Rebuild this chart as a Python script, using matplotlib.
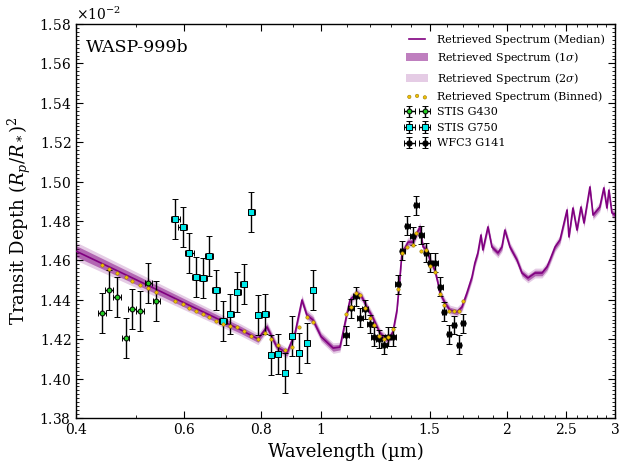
import numpy as np
import matplotlib
matplotlib.use('Agg')
import matplotlib.pyplot as plt
from matplotlib.ticker import FixedLocator, FixedFormatter, NullFormatter, MultipleLocator, ScalarFormatter

# ------------------------------------------------------------------
# data (depths in percent, i.e. units of 1e-2)
# ------------------------------------------------------------------
model_wl = [0.400, 0.450, 0.500, 0.550, 0.600, 0.650, 0.700, 0.740, 0.790, 0.817,
            0.847, 0.880, 0.907, 0.931, 0.948, 0.970, 1.000, 1.046,
            1.073, 1.102, 1.114, 1.144, 1.165, 1.187, 1.214, 1.246, 1.270, 1.284,
            1.308, 1.328, 1.343, 1.353, 1.368, 1.384, 1.410, 1.431, 1.447, 1.464,
            1.486, 1.502, 1.530, 1.548, 1.559, 1.589, 1.619, 1.662, 1.693, 1.725,
            1.758, 1.777, 1.797, 1.818, 1.831, 1.866, 1.894, 1.937, 1.966, 1.988,
            2.026, 2.080, 2.119, 2.167, 2.225, 2.284, 2.327, 2.353, 2.398, 2.443,
            2.508, 2.526, 2.564, 2.603, 2.642, 2.672, 2.732, 2.764, 2.835, 2.878,
            2.911, 2.933, 2.966, 3.000]
model_depth = [1.4647, 1.4571, 1.4503, 1.4441, 1.4384, 1.4332, 1.4284, 1.4248, 1.4201, 1.4262,
               1.4162, 1.4130, 1.4230, 1.4399, 1.4323, 1.4298, 1.4213, 1.4155,
               1.4160, 1.4333, 1.4399, 1.4435, 1.4414, 1.4363, 1.4308, 1.4232, 1.4206, 1.4196,
               1.4237, 1.4348, 1.4516, 1.4638, 1.4663, 1.4693, 1.4693, 1.4739, 1.4770, 1.4668,
               1.4653, 1.4602, 1.4551, 1.4485, 1.4435, 1.4384, 1.4348, 1.4338, 1.4363, 1.4435,
               1.4516, 1.4587, 1.4638, 1.4729, 1.4653, 1.4770, 1.4668, 1.4638, 1.4668, 1.4754,
               1.4668, 1.4602, 1.4536, 1.4511, 1.4536, 1.4536, 1.4567, 1.4602, 1.4668, 1.4704,
               1.4856, 1.4719, 1.4866, 1.4754, 1.4871, 1.4790, 1.4973, 1.4830, 1.4871, 1.4968,
               1.4866, 1.4957, 1.4841, 1.4830]
# half widths of the 1 and 2 sigma bands
band1 = [0.0028, 0.0026, 0.0024, 0.0022, 0.0021, 0.0020, 0.0019, 0.0018, 0.0017] \
        + [0.0016] * 9 + [0.0014] * (len(model_wl) - 18)
band2 = [0.0046, 0.0043, 0.0040, 0.0037, 0.0035, 0.0033, 0.0031, 0.0030, 0.0029] \
        + [0.0027] * 9 + [0.0025] * (len(model_wl) - 18)

g430_wl = [0.4403, 0.4530, 0.4667, 0.4816, 0.4931, 0.5081, 0.5241, 0.5400]
g430_depth = [1.4332, 1.4450, 1.4413, 1.4205, 1.4353, 1.4343, 1.4484, 1.4394]
g430_bin = [1.4578, 1.4555, 1.4535, 1.4514, 1.4495, 1.4474, 1.4458, 1.4438]
g430_err = 0.0101
g430_xerr = 0.0068

g750_wl = [0.5798, 0.5961, 0.6110, 0.6272, 0.6439, 0.6584, 0.6751, 0.6938, 0.7121, 0.7309,
           0.7495, 0.7702, 0.7906, 0.8121, 0.8291, 0.8520, 0.8737, 0.8978, 0.9217, 0.9475,
           0.9712]
g750_depth = [1.4809, 1.4768, 1.4636, 1.4514, 1.4509, 1.4621, 1.4450, 1.4294, 1.4326, 1.4438,
              1.4479, 1.4844, 1.4321, 1.4326, 1.4120, 1.4125, 1.4027, 1.4215, 1.4128, 1.4179,
              1.4448]
g750_bin = [1.4394, 1.4377, 1.4358, 1.4342, 1.4326, 1.4313, 1.4291, 1.4277, 1.4269, 1.4260,
            1.4240, 1.4216, 1.4200, 1.4230, 1.4200, 1.4171, 1.4145, 1.4159, 1.4260, 1.4314,
            1.4289]
g750_err = 0.0101
g750_xerr = 0.0099

wfc3_wl = [1.0976, 1.1184, 1.1404, 1.1576, 1.1794, 1.2022, 1.2203, 1.2419, 1.2649, 1.2855,
           1.3097, 1.3313, 1.3545, 1.3800, 1.4082, 1.4272, 1.4544, 1.4801, 1.5024, 1.5324,
           1.5613, 1.5845, 1.6146, 1.6450, 1.6725, 1.7013]
wfc3_depth = [1.4221, 1.4357, 1.4418, 1.4308, 1.4351, 1.4277, 1.4213, 1.4201, 1.4171, 1.4213,
              1.4213, 1.4480, 1.4648, 1.4775, 1.4724, 1.4881, 1.4729, 1.4639, 1.4588, 1.4588,
              1.4467, 1.4340, 1.4226, 1.4272, 1.4171, 1.4281]
wfc3_bin = [1.4326, 1.4362, 1.4433, 1.4424, 1.4360, 1.4309, 1.4272, 1.4216, 1.4201, 1.4213,
            1.4250, 1.4455, 1.4636, 1.4667, 1.4678, 1.4741, 1.4648, 1.4653, 1.4573, 1.4543,
            1.4429, 1.4374, 1.4345, 1.4342, 1.4345, 1.4395]
wfc3_err = 0.0048
wfc3_xerr = 0.0135

xticks = [0.4, 0.6, 0.8, 1, 1.5, 2, 2.5, 3]
xtick_labels = ['0.4', '0.6', '0.8', '1', '1.5', '2', '2.5', '3']

# ------------------------------------------------------------------
# style
# ------------------------------------------------------------------
plt.rcParams['font.family'] = 'DejaVu Serif'
plt.rcParams['mathtext.fontset'] = 'dejavuserif'
plt.rcParams['xtick.direction'] = 'in'
plt.rcParams['ytick.direction'] = 'in'
plt.rcParams['xtick.top'] = True
plt.rcParams['ytick.right'] = True

pct = 1e-2
wl = np.array(model_wl)
dep = np.array(model_depth) * pct
b1 = np.array(band1) * pct
b2 = np.array(band2) * pct

fig = plt.figure(figsize=(6.27, 4.67), dpi=100)
ax = fig.add_axes([0.1212, 0.1049, 0.8596, 0.8437])

ln, = ax.plot(wl, dep, color='purple', lw=1.2, zorder=3)
p1 = ax.fill_between(wl, dep - b1, dep + b1, color='purple', alpha=0.5, lw=0, zorder=2)
p2 = ax.fill_between(wl, dep - b2, dep + b2, color='purple', alpha=0.2, lw=0, zorder=1)

all_wl = g430_wl + g750_wl + wfc3_wl
all_bin = np.array(g430_bin + g750_bin + wfc3_bin) * pct
sc = ax.scatter(all_wl, all_bin, s=6, c='#f0c000', edgecolors='#9a7a10',
                linewidths=0.4, zorder=6)

ekw = dict(ecolor='k', elinewidth=1.0, capsize=2, capthick=1.0, mec='k', mew=0.7, zorder=5)
e1 = ax.errorbar(g430_wl, np.array(g430_depth) * pct, yerr=g430_err * pct, xerr=g430_xerr,
                 fmt='o', ms=3.5, mfc='#22cc22', **ekw)
e2 = ax.errorbar(g750_wl, np.array(g750_depth) * pct, yerr=g750_err * pct, xerr=g750_xerr,
                 fmt='s', ms=4.5, mfc='#00e8e8', **ekw)
e3 = ax.errorbar(wfc3_wl, np.array(wfc3_depth) * pct, yerr=wfc3_err * pct, xerr=wfc3_xerr,
                 fmt='o', ms=3.8, mfc='k', **ekw)

ax.set_xscale('log')
ax.set_xlim(0.4, 3)
ax.set_ylim(0.0138, 0.0158)
ax.xaxis.set_major_locator(FixedLocator(xticks))
ax.xaxis.set_major_formatter(FixedFormatter(xtick_labels))
ax.xaxis.set_minor_locator(FixedLocator(np.arange(0.5, 3.0, 0.1)))
ax.xaxis.set_minor_formatter(NullFormatter())
ax.yaxis.set_major_locator(MultipleLocator(0.0002))
ax.yaxis.set_minor_locator(MultipleLocator(0.00002))
fmt = ScalarFormatter(useMathText=True, useOffset=False)
fmt.set_powerlimits((0, 0))
ax.yaxis.set_major_formatter(fmt)
ax.tick_params(which='major', length=5, width=0.8, labelsize=10)
ax.tick_params(which='minor', length=2.5, width=0.6)
ax.yaxis.get_offset_text().set_fontsize(10)
for s in ax.spines.values():
    s.set_linewidth(1.0)

ax.set_xlabel('Wavelength (µm)', fontsize=13)
ax.set_ylabel(r'Transit Depth $(R_p/R_*)^2$', fontsize=13)
ax.text(0.018, 0.962, 'WASP-999b', transform=ax.transAxes, fontsize=12.5, va='top')

ax.legend([ln, p1, p2, sc, e1, e2, e3],
          ['Retrieved Spectrum (Median)', r'Retrieved Spectrum (1$\sigma$)',
           r'Retrieved Spectrum (2$\sigma$)', 'Retrieved Spectrum (Binned)',
           'STIS G430', 'STIS G750', 'WFC3 G141'],
          loc='upper right', frameon=False, fontsize=8, numpoints=2, scatterpoints=3)

fig.savefig('out.png', dpi=100)
